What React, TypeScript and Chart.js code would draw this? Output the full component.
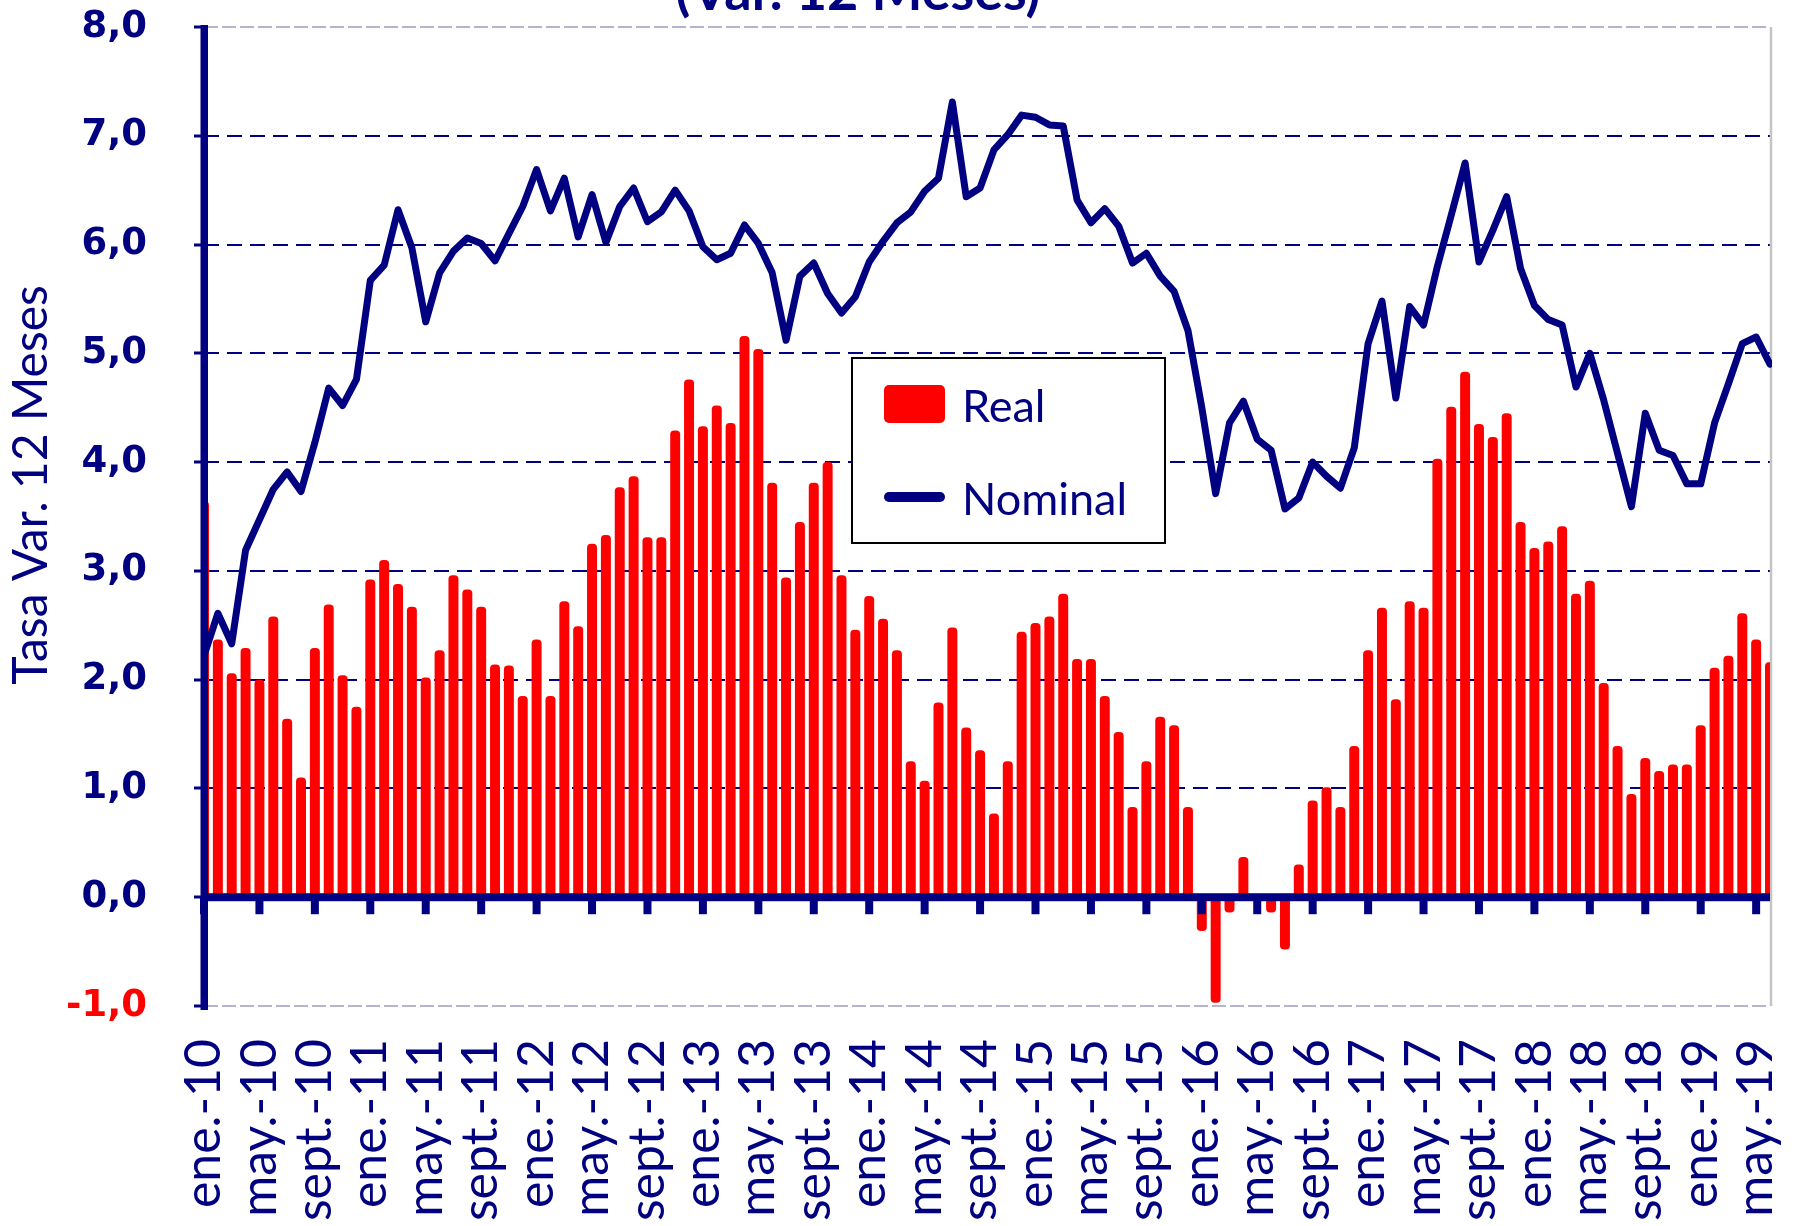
import React, { useEffect, useRef } from 'react';
import { Chart, registerables } from 'chart.js';

Chart.register(...registerables);

const NAVY = '#000080';
const RED = '#FF0000';

const MONTH_NAMES = ['ene.', 'feb.', 'mar.', 'abr.', 'may.', 'jun.', 'jul.', 'ago.', 'sept.', 'oct.', 'nov.', 'dic.'];
const YEARS = ['10', '11', '12', '13', '14', '15', '16', '17', '18', '19'];
const LAST_MONTH_2019 = 6; // enero..junio 2019

const categories: string[] = [];
YEARS.forEach((yy, yi) => {
  const count = yi === YEARS.length - 1 ? LAST_MONTH_2019 : 12;
  for (let m = 0; m < count; m++) categories.push(`${MONTH_NAMES[m]}-${yy}`);
});

const LABEL_EVERY = 4;

const realValues = [
  3.64, 2.37, 2.06, 2.29, 2.0, 2.58, 1.64, 1.1, 2.29, 2.69,
  2.04, 1.75, 2.92, 3.1, 2.88, 2.67, 2.02, 2.27, 2.96, 2.83,
  2.67, 2.14, 2.13, 1.85, 2.37, 1.85, 2.72, 2.49, 3.25, 3.33,
  3.77, 3.87, 3.31, 3.31, 4.29, 4.76, 4.33, 4.52, 4.36, 5.16,
  5.04, 3.81, 2.94, 3.45, 3.81, 4.0, 2.96, 2.46, 2.77, 2.56,
  2.27, 1.25, 1.07, 1.79, 2.48, 1.56, 1.35, 0.77, 1.25, 2.44,
  2.52, 2.58, 2.79, 2.19, 2.19, 1.85, 1.52, 0.83, 1.25, 1.66,
  1.58, 0.83, -0.31, -0.97, -0.14, 0.37, -0.02, -0.14, -0.48, 0.3,
  0.89, 1.01, 0.83, 1.39, 2.27, 2.66, 1.82, 2.72, 2.66, 4.03,
  4.51, 4.83, 4.35, 4.23, 4.45, 3.45, 3.21, 3.27, 3.41, 2.79,
  2.91, 1.97, 1.39, 0.95, 1.28, 1.16, 1.22, 1.22, 1.58, 2.11,
  2.22, 2.61, 2.37, 2.16,
];

const nominalValues = [
  2.22, 2.61, 2.33, 3.19, 3.47, 3.75, 3.91, 3.73, 4.18, 4.68,
  4.52, 4.76, 5.67, 5.81, 6.32, 5.97, 5.29, 5.74, 5.94, 6.06,
  6.01, 5.85, 6.1, 6.35, 6.69, 6.31, 6.61, 6.07, 6.46, 6.02,
  6.35, 6.52, 6.21, 6.3, 6.5, 6.31, 5.98, 5.86, 5.92, 6.18,
  6.01, 5.74, 5.12, 5.71, 5.83, 5.55, 5.37, 5.52, 5.84, 6.03,
  6.2, 6.3, 6.49, 6.61, 7.31, 6.44, 6.52, 6.87, 7.01, 7.19,
  7.17, 7.1, 7.09, 6.41, 6.2, 6.33, 6.17, 5.83, 5.92, 5.71,
  5.57, 5.21, 4.5, 3.71, 4.36, 4.56, 4.21, 4.11, 3.57, 3.67,
  4.0, 3.87, 3.76, 4.13, 5.09, 5.48, 4.59, 5.43, 5.26, 5.8,
  6.27, 6.75, 5.84, 6.13, 6.44, 5.78, 5.44, 5.31, 5.26, 4.69,
  5.0, 4.57, 4.08, 3.59, 4.45, 4.11, 4.06, 3.8, 3.8, 4.36,
  4.72, 5.09, 5.15, 4.9,
];

const Y_MIN = -1;
const Y_MAX = 8;
const Y_STEP = 1;

const TITLE_TEXT = '(Var. 12 Meses)';
const Y_TITLE = 'Tasa Var. 12 Meses';
const SERIES_REAL = 'Real';
const SERIES_NOMINAL = 'Nominal';

const zeroPadding = (scale: any) => {
  scale.paddingTop = 0;
  scale.paddingBottom = 0;
  scale.paddingLeft = 0;
  scale.paddingRight = 0;
};

const decorPlugin = {
  id: 'decor',
  beforeDatasetsDraw(chart: any) {
    const { ctx, chartArea: a } = chart;
    ctx.save();
    ctx.strokeStyle = '#B4B4CE';
    ctx.lineWidth = 2;
    ctx.setLineDash([14, 4]);
    ctx.beginPath();
    ctx.moveTo(a.left, a.top);
    ctx.lineTo(a.right, a.top);
    ctx.moveTo(a.left, a.bottom);
    ctx.lineTo(a.right, a.bottom);
    ctx.stroke();
    ctx.setLineDash([]);
    ctx.strokeStyle = '#C4C4C4';
    ctx.lineWidth = 2.5;
    ctx.beginPath();
    ctx.moveTo(a.right + 1, a.top);
    ctx.lineTo(a.right + 1, a.bottom);
    ctx.stroke();
    ctx.restore();
  },
  afterDatasetsDraw(chart: any) {
    const { ctx, chartArea: a } = chart;
    const xs = chart.scales.x;
    const ys = chart.scales.y;
    const y0 = ys.getPixelForValue(0);
    ctx.save();
    ctx.fillStyle = NAVY;
    ctx.fillRect(a.left, y0 - 4, a.right - a.left, 8);
    for (let i = 0; i < categories.length; i += LABEL_EVERY) {
      const px = xs.getPixelForValue(i);
      ctx.fillRect(px - 4, y0, 8, 17);
    }
    ctx.fillRect(a.left - 3.5, a.top - 2, 7.5, a.bottom - a.top + 6);
    ctx.restore();
  },
  afterDraw(chart: any) {
    const { ctx } = chart;
    ctx.save();
    ctx.fillStyle = NAVY;
    ctx.font = 'bold 54px Lato';
    ctx.textAlign = 'center';
    ctx.textBaseline = 'alphabetic';
    ctx.fillText(TITLE_TEXT, 858, 10);

    ctx.save();
    ctx.translate(32, 485);
    ctx.rotate(-Math.PI / 2);
    ctx.font = '48px Lato';
    ctx.textAlign = 'center';
    ctx.textBaseline = 'middle';
    ctx.fillStyle = NAVY;
    ctx.fillText(Y_TITLE, 0, 0);
    ctx.restore();

    const bx = 852, by = 358, bw = 313, bh = 185;
    ctx.fillStyle = '#FFFFFF';
    ctx.fillRect(bx, by, bw, bh);
    ctx.strokeStyle = '#000000';
    ctx.lineWidth = 2;
    ctx.strokeRect(bx, by, bw, bh);

    ctx.fillStyle = RED;
    ctx.beginPath();
    (ctx as any).roundRect(884, 385, 61, 38, 5);
    ctx.fill();

    ctx.strokeStyle = NAVY;
    ctx.lineWidth = 10;
    ctx.lineCap = 'round';
    ctx.beginPath();
    ctx.moveTo(889, 497);
    ctx.lineTo(940, 497);
    ctx.stroke();

    ctx.fillStyle = NAVY;
    ctx.font = '45px Lato';
    ctx.textAlign = 'left';
    ctx.textBaseline = 'alphabetic';
    ctx.fillText(SERIES_REAL, 962, 422);
    ctx.fillText(SERIES_NOMINAL, 962, 515);
    ctx.restore();
  },
};

export default function App() {
  const canvasRef = useRef<HTMLCanvasElement | null>(null);

  useEffect(() => {
    document.body.style.margin = '0';
    const canvas = canvasRef.current;
    if (!canvas) return;
    const chart = new Chart(canvas, {
      type: 'bar',
      data: {
        labels: categories,
        datasets: [
          {
            type: 'line',
            label: SERIES_NOMINAL,
            data: nominalValues,
            borderColor: NAVY,
            borderWidth: 7,
            pointRadius: 0,
            tension: 0,
            borderJoinStyle: 'round',
            borderCapStyle: 'round',
            order: 0,
            clip: 2,
          } as any,
          {
            type: 'bar',
            label: SERIES_REAL,
            data: realValues,
            backgroundColor: RED,
            borderWidth: 0,
            borderRadius: 4,
            borderSkipped: 'start',
            barPercentage: 0.72,
            categoryPercentage: 1,
            order: 1,
            clip: 0,
          } as any,
        ],
      },
      options: {
        responsive: false,
        animation: false,
        devicePixelRatio: 1,
        layout: { padding: { top: 27, right: 30, left: 0, bottom: 0 } },
        plugins: {
          legend: { display: false },
          tooltip: { enabled: false },
          title: { display: false },
        },
        scales: {
          x: {
            type: 'category',
            offset: false,
            grid: { display: false, drawTicks: false, offset: false },
            border: { display: false },
            ticks: {
              autoSkip: false,
              maxRotation: 90,
              minRotation: 90,
              padding: 33,
              color: NAVY,
              font: { family: 'Lato', size: 50 },
              callback: (_v: any, index: number) => (index % LABEL_EVERY === 0 ? categories[index] : ''),
            },
            afterFit: (scale: any) => {
              scale.height = 220;
              zeroPadding(scale);
            },
          },
          y: {
            min: Y_MIN,
            max: Y_MAX,
            grid: {
              color: (ctx: any) =>
                ctx.tick && ctx.tick.value >= 1 && ctx.tick.value <= 7 ? NAVY : 'rgba(0,0,0,0)',
              lineWidth: 2,
              drawTicks: true,
              tickLength: 10,
              tickColor: NAVY,
              tickWidth: 3,
            },
            border: { display: false, dash: [15, 8] },
            ticks: {
              stepSize: Y_STEP,
              padding: 47,
              color: (ctx: any) => (ctx.tick && ctx.tick.value < 0 ? RED : NAVY),
              font: { family: 'DejaVu Sans', size: 37, weight: 'bold' },
              callback: (v: any) => Number(v).toFixed(1).replace('.', ','),
            },
            afterFit: (scale: any) => {
              scale.width = 204;
              zeroPadding(scale);
            },
          },
        },
      } as any,
      plugins: [decorPlugin],
    });
    return () => chart.destroy();
  }, []);

  return <canvas ref={canvasRef} width={1800} height={1226} style={{ display: 'block' }} />;
}
